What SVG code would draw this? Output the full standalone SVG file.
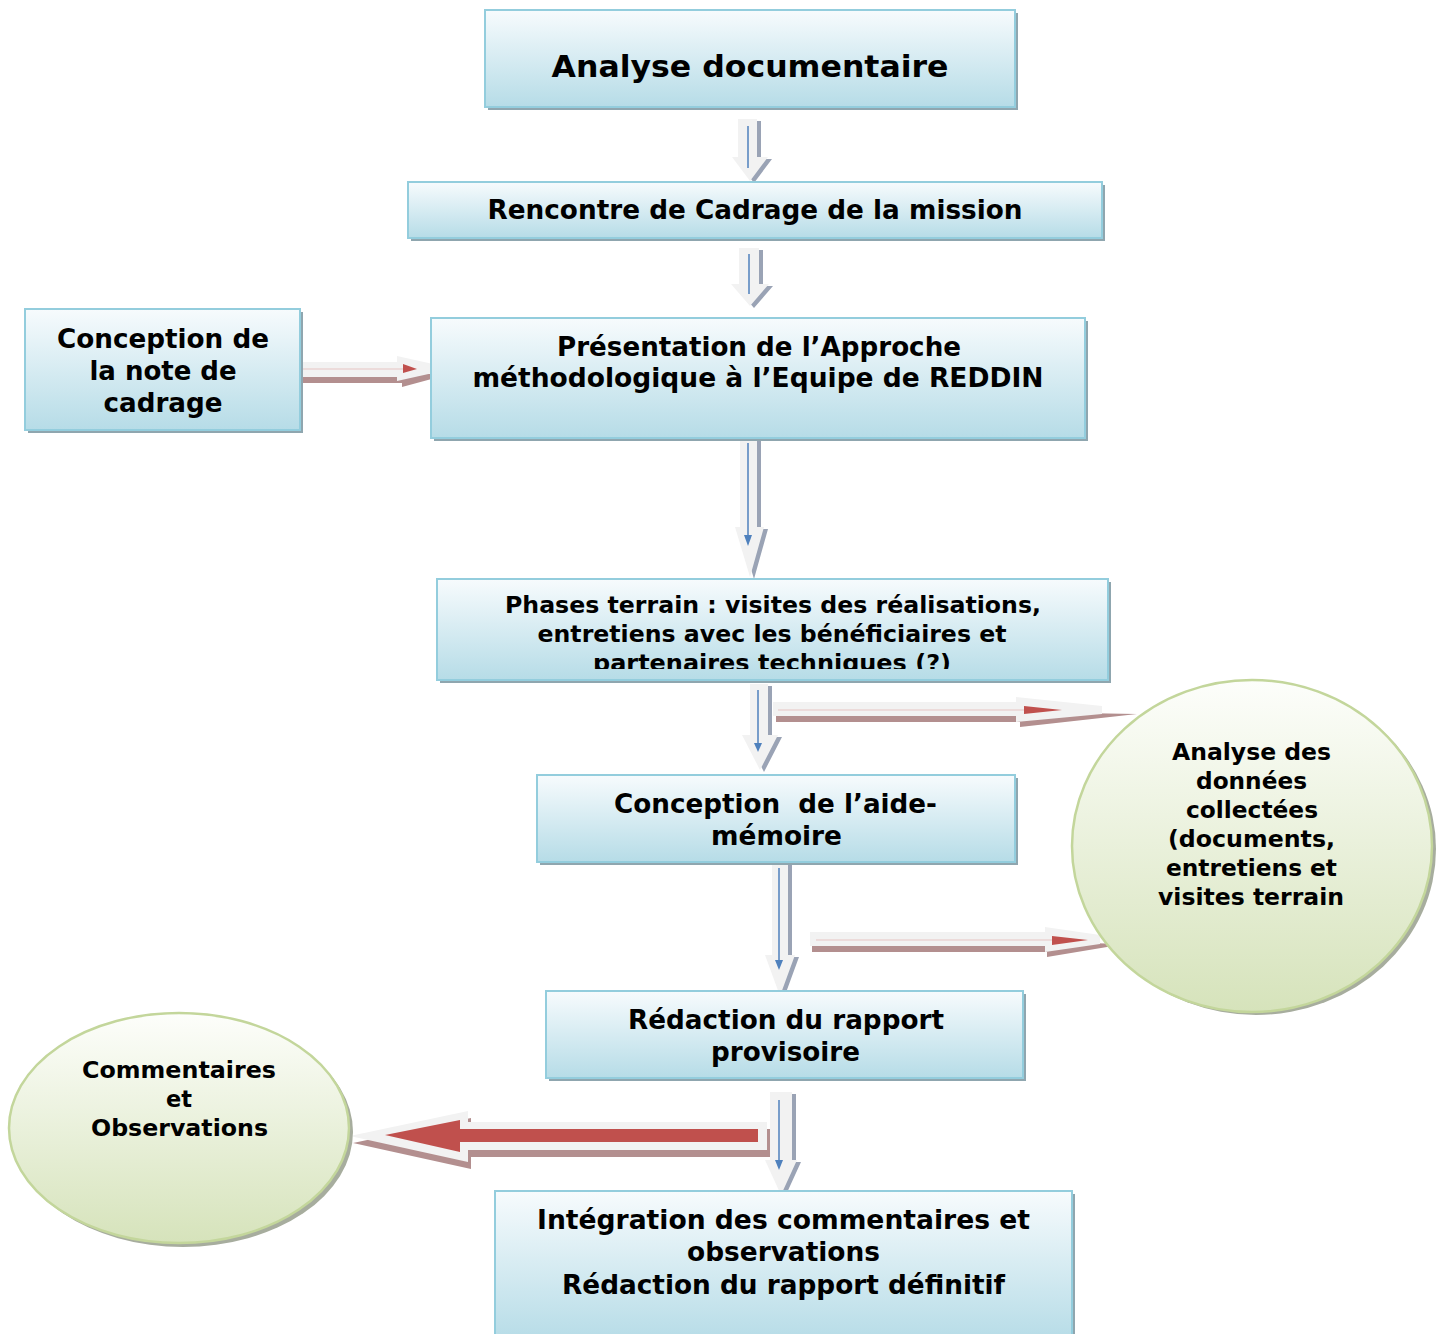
<svg xmlns="http://www.w3.org/2000/svg" width="1443" height="1334" viewBox="0 0 1443 1334">
<defs>
<linearGradient id="gBox" x1="0" y1="0" x2="0" y2="1">
<stop offset="0" stop-color="#f7fbfd"/>
<stop offset="1" stop-color="#b6dce7"/>
</linearGradient>
<linearGradient id="gEl" x1="0" y1="0" x2="0" y2="1">
<stop offset="0" stop-color="#fdfefb"/>
<stop offset="1" stop-color="#d6e3bb"/>
</linearGradient>
<clipPath id="clipPh"><rect x="437" y="579" width="671" height="90"/></clipPath>
<style>
.bx{fill:url(#gBox);stroke:#93cddd;stroke-width:2}
.bs{fill:#8fa6af}
.el{fill:url(#gEl);stroke:#c3d69b;stroke-width:2.5}
.es{fill:#a7ad9e}
.t{font-family:"DejaVu Sans","Liberation Sans",sans-serif;font-weight:bold;fill:#000;text-anchor:middle}
.aw{fill:#f2f2f2}
.ads{fill:#9aa3b5}
.ars{fill:#b38f8f}
.bl{stroke:#4f81bd;stroke-width:1.5;fill:none}
.blh{fill:#4f81bd}
.rl{stroke:#e6c4c3;stroke-width:1;fill:none}
.rh{fill:#c0504d}
</style>
</defs>
<rect width="1443" height="1334" fill="#ffffff"/>

<g id="connectors">
<!-- arrow 1 -->
<g transform="translate(4,2)" class="ads"><path d="M738,119 H757 V157 H768 L750,181 L732,157 H738 Z"/></g>
<path class="aw" d="M738,119 H757 V157 H768 L750,181 L732,157 H738 Z"/>
<line class="bl" x1="748" y1="126" x2="748" y2="168"/>
<!-- arrow 2 -->
<g transform="translate(4,2)" class="ads"><path d="M739,248 H759 V284 H769 L750,306 L731,284 H739 Z"/></g>
<path class="aw" d="M739,248 H759 V284 H769 L750,306 L731,284 H739 Z"/>
<line class="bl" x1="749" y1="254" x2="749" y2="294"/>
<!-- arrow left to box3 -->
<path class="ars" d="M300,377 H400 V374 L450,374 L402,387 V383 H300 Z"/>
<path class="aw" d="M298,362 H397 V356 L433,364 V373 L397,381 V377 H298 Z"/>
<line class="rl" x1="302" y1="369" x2="404" y2="369"/>
<path class="rh" d="M403,364 L417,369 L403,373 Z"/>
<!-- arrow 3 -->
<g transform="translate(4,2)" class="ads"><path d="M740,435 H757 V527 H764 L750,577 L735,527 H740 Z"/></g>
<path class="aw" d="M740,435 H757 V527 H764 L750,577 L735,527 H740 Z"/>
<line class="bl" x1="748" y1="443" x2="748" y2="538"/>
<path class="blh" d="M744,535 L752,535 L748,546 Z"/>
<!-- arrow 4 down -->
<g transform="translate(4,2)" class="ads"><path d="M750,684 H768 V735 H778 L760,770 L742,735 H750 Z"/></g>
<path class="aw" d="M750,684 H768 V735 H778 L760,770 L742,735 H750 Z"/>
<line class="bl" x1="758" y1="690" x2="758" y2="745"/>
<path class="blh" d="M754,743 L762,743 L758,752 Z"/>
<!-- arrow 4 right -->
<path class="ars" d="M776,716 H1020 V712 L1137,714 L1020,727 V722 H776 Z"/>
<path class="aw" d="M773,702 H1016 V697 L1102,706 V714 L1016,722 V716 H773 Z"/>
<line class="rl" x1="778" y1="710" x2="1026" y2="710"/>
<path class="rh" d="M1024,706 L1062,710 L1024,714 Z"/>
<!-- arrow 5 down -->
<g transform="translate(4,2)" class="ads"><path d="M772,860 H788 V955 H795 L780,996 L765,955 H772 Z"/></g>
<path class="aw" d="M772,860 H788 V955 H795 L780,996 L765,955 H772 Z"/>
<line class="bl" x1="779" y1="868" x2="779" y2="962"/>
<path class="blh" d="M775,960 L783,960 L779,970 Z"/>
<!-- arrow 5 right -->
<path class="ars" d="M812,946 H1047 V942 L1125,944 L1047,957 V952 H812 Z"/>
<path class="aw" d="M810,932 H1045 V927 L1100,935 V944 L1045,952 V946 H810 Z"/>
<line class="rl" x1="816" y1="940" x2="1054" y2="940"/>
<path class="rh" d="M1052,936 L1088,940 L1052,945 Z"/>
<!-- arrow 6 down -->
<g transform="translate(4,2)" class="ads"><path d="M770,1092 H792 V1160 H797 L781,1195 L765,1160 H770 Z"/></g>
<path class="aw" d="M770,1092 H792 V1160 H797 L781,1195 L765,1160 H770 Z"/>
<line class="bl" x1="779" y1="1100" x2="779" y2="1162"/>
<path class="blh" d="M775,1160 L783,1160 L779,1170 Z"/>
<!-- big red arrow -->
<g transform="translate(3,7)" class="ars"><path d="M767,1122 V1150 H468 V1162 L350,1136 L468,1111 V1122 Z"/></g>
<path class="aw" d="M767,1122 V1150 H468 V1162 L350,1136 L468,1111 V1122 Z"/>
<path class="rh" d="M758,1129 V1142 H460 V1152 L385,1135 L460,1120 V1129 Z"/>
</g>

<g id="n1">
<rect class="bs" x="488" y="13" width="530" height="97"/>
<rect class="bx" x="485" y="10" width="530" height="97"/>
<text class="t" x="750" y="77" font-size="31" textLength="397" lengthAdjust="spacingAndGlyphs">Analyse documentaire</text>
</g>

<g id="n2">
<rect class="bs" x="411" y="185" width="694" height="56"/>
<rect class="bx" x="408" y="182" width="694" height="56"/>
<text class="t" x="755" y="219" font-size="26" textLength="535" lengthAdjust="spacingAndGlyphs">Rencontre de Cadrage de la mission</text>
</g>

<g id="n3">
<rect class="bs" x="434" y="321" width="654" height="120"/>
<rect class="bx" x="431" y="318" width="654" height="120"/>
<text class="t" x="759" y="356" font-size="26" textLength="404" lengthAdjust="spacingAndGlyphs">Présentation de l’Approche</text>
<text class="t" x="758" y="387" font-size="26" textLength="571" lengthAdjust="spacingAndGlyphs">méthodologique à l’Equipe de REDDIN</text>
</g>

<g id="n0">
<rect class="bs" x="28" y="312" width="275" height="121"/>
<rect class="bx" x="25" y="309" width="275" height="121"/>
<text class="t" x="163" y="348" font-size="26" textLength="212" lengthAdjust="spacingAndGlyphs">Conception de</text>
<text class="t" x="163" y="380" font-size="26">la note de</text>
<text class="t" x="163" y="412" font-size="26" textLength="119" lengthAdjust="spacingAndGlyphs">cadrage</text>
</g>

<g id="n4">
<rect class="bs" x="440" y="582" width="671" height="101"/>
<rect class="bx" x="437" y="579" width="671" height="101"/>
<g clip-path="url(#clipPh)">
<text class="t" x="773" y="613" font-size="23.5" textLength="536" lengthAdjust="spacingAndGlyphs">Phases terrain : visites des réalisations,</text>
<text class="t" x="772" y="642" font-size="23.5" textLength="469" lengthAdjust="spacingAndGlyphs">entretiens avec les bénéficiaires et</text>
<text class="t" x="772" y="671" font-size="23.5" textLength="358" lengthAdjust="spacingAndGlyphs">partenaires techniques (?)</text>
</g>
</g>

<g id="n5">
<rect class="bs" x="540" y="778" width="478" height="87"/>
<rect class="bx" x="537" y="775" width="478" height="87"/>
<text class="t" x="775.5" y="813" font-size="26" xml:space="preserve" textLength="323" lengthAdjust="spacingAndGlyphs">Conception  de l’aide-</text>
<text class="t" x="776.5" y="845" font-size="26" textLength="131" lengthAdjust="spacingAndGlyphs">mémoire</text>
</g>

<g id="e1">
<ellipse class="es" cx="1256" cy="849" rx="180" ry="166"/>
<ellipse class="el" cx="1252" cy="846" rx="180" ry="166"/>
<text class="t" x="1251.5" y="760" font-size="23.5" textLength="159" lengthAdjust="spacingAndGlyphs">Analyse des</text>
<text class="t" x="1251.5" y="789" font-size="23.5" textLength="111" lengthAdjust="spacingAndGlyphs">données</text>
<text class="t" x="1252" y="818" font-size="23.5" textLength="132" lengthAdjust="spacingAndGlyphs">collectées</text>
<text class="t" x="1251.5" y="847" font-size="23.5" textLength="167" lengthAdjust="spacingAndGlyphs">(documents,</text>
<text class="t" x="1251.5" y="876" font-size="23.5" textLength="171" lengthAdjust="spacingAndGlyphs">entretiens et</text>
<text class="t" x="1251" y="905" font-size="23.5" textLength="186" lengthAdjust="spacingAndGlyphs">visites terrain</text>
</g>

<g id="n6">
<rect class="bs" x="549" y="994" width="477" height="87"/>
<rect class="bx" x="546" y="991" width="477" height="87"/>
<text class="t" x="786" y="1029" font-size="26" textLength="316" lengthAdjust="spacingAndGlyphs">Rédaction du rapport</text>
<text class="t" x="785.5" y="1061" font-size="26" textLength="149" lengthAdjust="spacingAndGlyphs">provisoire</text>
</g>

<g id="e2">
<ellipse class="es" cx="183" cy="1132" rx="170" ry="115"/>
<ellipse class="el" cx="179" cy="1128" rx="170" ry="115"/>
<text class="t" x="179" y="1078" font-size="23.5" textLength="194" lengthAdjust="spacingAndGlyphs">Commentaires</text>
<text class="t" x="179" y="1107" font-size="23.5" textLength="26" lengthAdjust="spacingAndGlyphs">et</text>
<text class="t" x="179.5" y="1136" font-size="23.5" textLength="177" lengthAdjust="spacingAndGlyphs">Observations</text>
</g>

<g id="n7">
<rect class="bs" x="498" y="1194" width="577" height="150"/>
<rect class="bx" x="495" y="1191" width="577" height="150"/>
<text class="t" x="783.5" y="1229" font-size="26" textLength="493" lengthAdjust="spacingAndGlyphs">Intégration des commentaires et</text>
<text class="t" x="783.5" y="1261" font-size="26" textLength="193" lengthAdjust="spacingAndGlyphs">observations</text>
<text class="t" x="783.5" y="1294" font-size="26" textLength="443" lengthAdjust="spacingAndGlyphs">Rédaction du rapport définitif</text>
</g>
</svg>
